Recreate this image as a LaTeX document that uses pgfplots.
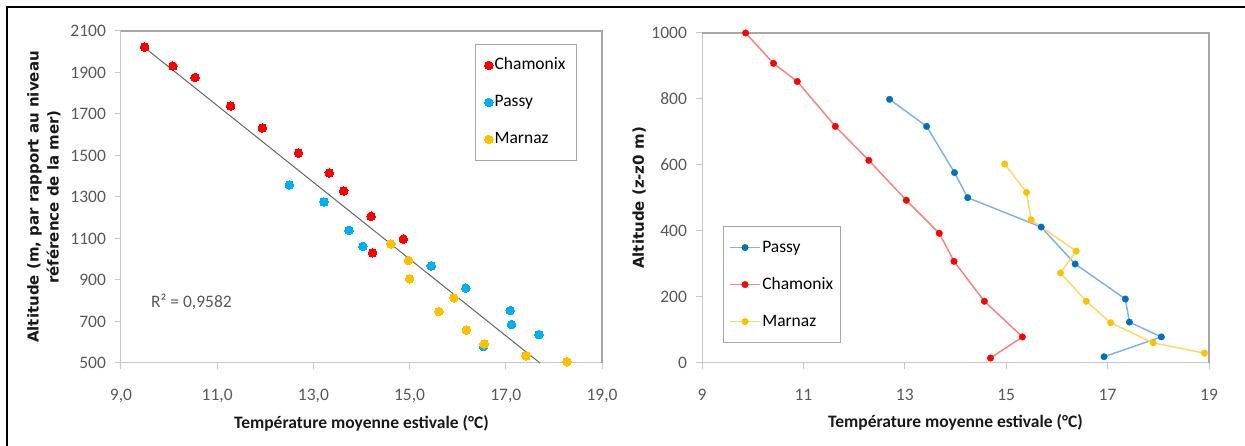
\documentclass[border=0pt]{standalone}
\usepackage{pgfplots}
\pgfplotsset{compat=1.18}
\usepackage{fontspec}
\setmainfont{Carlito}
\newfontfamily\labfont{DejaVu Sans}
\definecolor{tickgray}{HTML}{595959}
\definecolor{axgray}{HTML}{C8C8C8}
\definecolor{framegray}{HTML}{A6A6A6}
\definecolor{cred}{HTML}{FF0000}
\definecolor{cblue}{HTML}{00B0F0}
\definecolor{corange}{HTML}{FFC000}
\definecolor{pblue}{HTML}{0070C0}
\definecolor{pblueline}{HTML}{80B4E2}
\definecolor{credline}{HTML}{FF8080}
\definecolor{corline}{HTML}{FFD966}
\newcommand\tfont{\fontsize{17.5}{21}\selectfont}
\pgfplotsset{
  mystyle/.style={
    scale only axis,
    axis x line*=bottom, axis y line*=left,
    axis line style={axgray, line width=1pt},
    tick align=outside,
    major tick length=6pt,
    tick style={axgray, line width=1pt},
    ticklabel style={text=tickgray, font=\tfont},
    xticklabel style={yshift=-14pt},
    yticklabel style={xshift=-3pt},
    /pgf/number format/assume math mode=true,
    /pgf/number format/set thousands separator={},
    xlabel style={at={(axis description cs:0.5,-0.181)}, anchor=center, font=\tfont\bfseries, text=black!90},
    ylabel style={anchor=center, align=center, font=\labfont\bfseries\fontsize{15}{20}\selectfont, text=black!90},
    clip=false,
    legend cell align=left,
    legend style={font=\tfont, draw=framegray, line width=1pt, fill=white,
      nodes={inner sep=1.5pt, text height=12pt, text depth=3pt},
      row sep=19pt, inner ysep=12pt},
  }
}
\begin{document}
\tfont
\begin{tikzpicture}
\path[use as bounding box] (0pt,0pt) rectangle (1245pt,446pt);
\draw[black, line width=2.5pt] (7pt,0pt) -- (7pt,439pt) -- (1245pt,439pt);

% ---------------- left chart ----------------
\begin{axis}[mystyle,
  at={(121pt,83pt)}, anchor=south west,
  width=481pt, height=332pt,
  xmin=9, xmax=19, ymin=500, ymax=2100,
  xtick={9,11,13,15,17,19},
  xticklabels={{9,0},{11,0},{13,0},{15,0},{17,0},{19,0}},
  ytick={500,700,900,1100,1300,1500,1700,1900,2100},
  xlabel={Température moyenne estivale (°C)},
  ylabel={Altitude (m, par rapport au niveau\\référence de la mer)},
  ylabel style={at={(axis description cs:-0.160,0.5)}},
  legend style={at={(0.736,0.961)}, anchor=north west, inner xsep=9pt,
    /tikz/every even column/.append style={column sep=2pt}},
]
\addplot[only marks, mark=*, mark size=4.3pt, color=cred, mark options={draw=cred, fill=cred, line width=0pt}] coordinates {
(9.49,2023) (10.08,1931) (10.54,1876) (11.28,1739) (11.94,1633) (12.69,1512)
(13.33,1416) (13.63,1329) (14.20,1207) (14.87,1097) (14.23,1031)};
\addlegendentry{Chamonix}
\addplot[only marks, mark=*, mark size=4.3pt, color=cblue, mark options={draw=cblue, fill=cblue, line width=0pt}] coordinates {
(12.50,1358) (13.22,1276) (13.74,1139) (14.03,1062) (15.45,968) (16.17,861)
(17.09,753) (17.12,685) (17.69,637) (16.54,579)};
\addlegendentry{Passy}
\addplot[only marks, mark=*, mark size=4.3pt, color=corange, mark options={draw=corange, fill=corange, line width=0pt}] coordinates {
(14.61,1074) (14.98,994) (15.00,906) (15.92,814) (15.61,748) (16.18,659)
(16.55,592) (17.42,534) (18.27,506)};
\addlegendentry{Marnaz}
\addplot[forget plot, no marks, color=black!60, line width=1pt] coordinates {(9.49,2020) (17.71,500)};
\node[anchor=west, text=tickgray, font=\tfont] at (axis cs:9.5,794) {R² = 0,9582};
\draw[framegray, line width=2pt] (rel axis cs:0,1) -- (rel axis cs:1,1) -- (rel axis cs:1,0);
\end{axis}

% ---------------- right chart ----------------
\begin{axis}[mystyle,
  at={(702pt,83pt)}, anchor=south west,
  width=507pt, height=330pt,
  xmin=9, xmax=19, ymin=0, ymax=1000,
  xtick={9,11,13,15,17,19},
  ytick={0,200,400,600,800,1000},
  xlabel={Température moyenne estivale (°C)},
  ylabel={Altitude (z-z0 m)},
  ylabel style={at={(axis description cs:-0.124,0.5)}},
  legend style={at={(0.041,0.415)}, anchor=north west, inner xsep=6pt,
    /tikz/every even column/.append style={column sep=3pt}},
  legend image code/.code={\draw[mark repeat=2,mark phase=2] plot coordinates {(0pt,0pt)(15pt,0pt)(30pt,0pt)};},
]
\addplot[color=pblueline, line width=1.5pt, mark=*, mark size=3.3pt, mark options={fill=pblue, draw=pblue, line width=0.3pt}] coordinates {
(12.70,799) (13.43,717) (13.98,577) (14.24,501) (15.69,412) (16.36,300)
(17.35,194) (17.43,124) (18.06,79) (16.93,19)};
\addlegendentry{Passy}
\addplot[color=credline, line width=1.5pt, mark=*, mark size=3.3pt, mark options={fill=cred, draw=cred, line width=0.3pt}] coordinates {
(9.86,1000) (10.41,908) (10.88,853) (11.63,717) (12.29,614) (13.03,493)
(13.68,393) (13.97,308) (14.57,187) (15.32,79) (14.69,15)};
\addlegendentry{Chamonix}
\addplot[color=corline, line width=1.5pt, mark=*, mark size=3.3pt, mark options={fill=corange, draw=corange, line width=0.3pt}] coordinates {
(14.97,603) (15.40,517) (15.49,434) (16.38,339) (16.07,273) (16.58,187)
(17.06,122) (17.90,61) (18.91,30)};
\addlegendentry{Marnaz}
\draw[framegray, line width=2pt] (rel axis cs:0,1) -- (rel axis cs:1,1) -- (rel axis cs:1,0);
\end{axis}
\end{tikzpicture}
\end{document}
